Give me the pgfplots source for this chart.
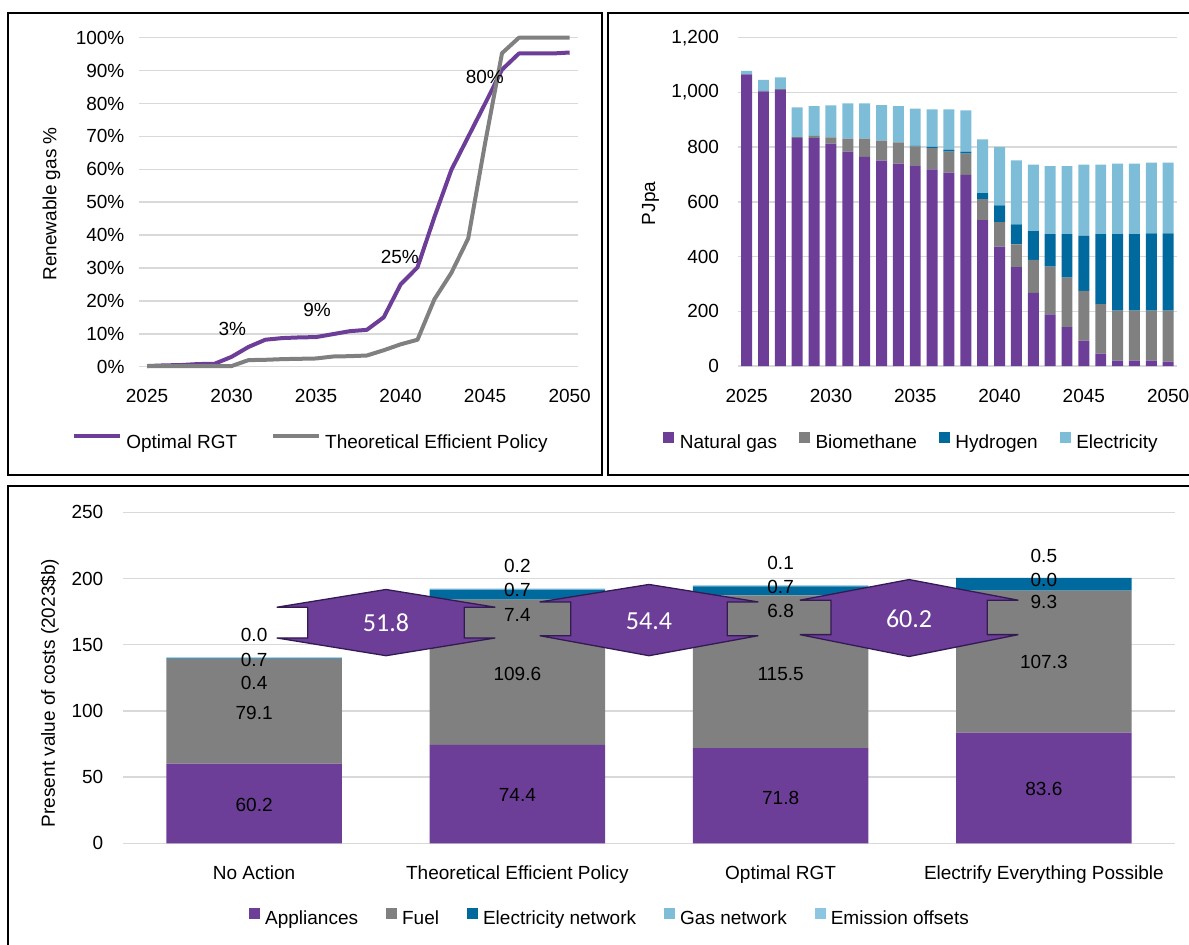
\documentclass[border=0pt]{standalone}
\usepackage{fontspec}
\setmainfont{Liberation Sans}
\newfontfamily\arrowfont{Carlito}
\usepackage{pgfplots}
\usepackage{pgfplotstable}
\pgfplotsset{compat=1.18}

\definecolor{cPurple}{RGB}{109,62,152}
\definecolor{cGray}{RGB}{128,128,128}
\definecolor{cDark}{RGB}{0,106,158}
\definecolor{cLight}{RGB}{126,189,216}
\definecolor{cLightB}{RGB}{140,198,224}
\definecolor{cGrid}{RGB}{217,217,217}
\definecolor{cEdge}{RGB}{52,26,82}

\newcommand\fs{\fontsize{19}{22}\selectfont}

% cost difference arrow: centre, text, top, notch top, notch bottom, bottom, text y
\newcommand\gap[7]{%
  \filldraw[fill=cPurple, draw=cEdge, line width=1.3pt, line join=miter]
    (axis cs:#1-0.415,#4) -- (axis cs:#1,#3) -- (axis cs:#1+0.415,#4)
    -- (axis cs:#1+0.297,#4) -- (axis cs:#1+0.297,#5) -- (axis cs:#1+0.415,#5)
    -- (axis cs:#1,#6) -- (axis cs:#1-0.415,#5) -- (axis cs:#1-0.297,#5)
    -- (axis cs:#1-0.297,#4) -- cycle;
  \node[text=white, font=\arrowfont\fontsize{26}{28}\selectfont] at (axis cs:#1,#7) {#2};}

% Supply mix by fuel, PJ per annum
\pgfplotstableread{
year ng   bio h2  el
2025 1066 0   0   13
2026 1004 2   0   40
2027 1009 3   0   43
2028 834  3   0   108
2029 833  8   0   109
2030 813  23  0   117
2031 784  47  0   129
2032 764  67  0   129
2033 751  73  0   130
2034 740  77  0   133
2035 731  72  2   136
2036 719  77  5   137
2037 707  77  7   147
2038 699  77  8   150
2039 533  77  22  196
2040 436  90  61  214
2041 361  84  73  234
2042 267  121 105 243
2043 189  174 119 249
2044 142  181 159 249
2045 93   182 202 259
2046 45   181 256 254
2047 20   182 280 258
2048 20   182 280 258
2049 20   182 283 258
2050 16   186 283 258
}\supplytable

% Renewable gas share, percent
\pgfplotstableread{
year rgt  tep
2025 0.2  0.2
2026 0.4  0.2
2027 0.5  0.2
2028 0.8  0.2
2029 0.9  0.2
2030 3.0  0.2
2031 6.0  2.0
2032 8.2  2.1
2033 8.7  2.3
2034 8.9  2.4
2035 9.0  2.5
2036 9.9  3.1
2037 10.8 3.2
2038 11.2 3.4
2039 15.0 5.0
2040 25.0 6.8
2041 30.2 8.2
2042 45.5 20.5
2043 59.8 28.5
2044 69.9 39.0
2045 80.0 68.0
2046 90.3 95.3
2047 95.2 100
2048 95.2 100
2049 95.2 100
2050 95.5 100
}\sharetable

% Present value of costs, 2023 $b
\pgfplotstableread{
x app  fuel  elnet gasnet offs
0 60.2 79.1  0.4   0.7    0.0
1 74.4 109.6 7.4   0.7    0.2
2 71.8 115.5 6.8   0.7    0.1
3 83.6 107.3 9.3   0.0    0.5
}\costtable

\pgfplotsset{
  panel/.style={
    scale only axis, clip=false,
    axis line style={draw=none},
    major tick length=0pt,
    ymajorgrids, grid style={cGrid, line width=1.5pt},
    tick label style={font=\fs, inner sep=0pt, text=black},
    /pgf/number format/assume math mode=true,
    xticklabel style={anchor=base, yshift=-36pt},
    legend style={draw=none, fill=none, font=\fs, inner sep=0pt,
      legend columns=-1, nodes={inner sep=0pt},
      /tikz/every odd column/.append style={column sep=5pt},
      /tikz/every even column/.append style={column sep=28pt}},
  },
  costframe/.style={scale only axis, clip=false,
    at={(122.5pt,-512.3pt)}, anchor=north west,
    width=1053pt, height=331pt,
    xmin=-0.5, xmax=3.5, ymin=0, ymax=250},
  sq/.style={legend image code/.code={\fill[##1] (0pt,-1pt) rectangle (11pt,10pt);}},
  ln/.style={legend image code/.code={\draw[##1] (0pt,6.5pt) -- (46pt,6.5pt);}},
}

\begin{document}
\begin{tikzpicture}
\useasboundingbox (0,0) rectangle (1189pt,-945pt);
\draw[line width=2pt] (7.7pt,-12.7pt) rectangle (602pt,-475pt);
\draw[line width=2pt] (607.5pt,-12.7pt) rectangle (1200pt,-475pt);
\draw[line width=2pt] (7.7pt,-486pt) rectangle (1200pt,-960pt);

% ---- Renewable gas share ----
\begin{axis}[panel,
  at={(138.6pt,-37.7pt)}, anchor=north west,
  width=439.5pt, height=329pt,
  xmin=2024.5, xmax=2050.5, ymin=0, ymax=100,
  xtick={2025,2030,2035,2040,2045,2050},
  xticklabels={2025,2030,2035,2040,2045,2050},
  ytick={0,10,...,100},
  yticklabels={0\%,10\%,20\%,30\%,40\%,50\%,60\%,70\%,80\%,90\%,100\%},
  yticklabel style={xshift=-14pt},
  every axis y label/.style={at={(axis description cs:-0.198,0.495)}, rotate=90, anchor=center, font=\fs},
  ylabel={Renewable gas \%},
  legend style={at={(axis description cs:0.390,-0.228)}, anchor=center,
    /tikz/every even column/.append style={column sep=34pt},
    /tikz/every odd column/.append style={column sep=4pt}},
]
\addplot[ln, cPurple, line width=4pt, line join=round] table[x=year,y=rgt]{\sharetable};
\addlegendentry{Optimal RGT}
\addplot[ln, cGray, line width=4pt, line join=round] table[x=year,y=tep]{\sharetable};
\addlegendentry{Theoretical Efficient Policy}
\node[font=\fs] at (axis cs:2030.05,11.5) {3\%};
\node[font=\fs] at (axis cs:2035.06,17.2) {9\%};
\node[font=\fs] at (axis cs:2039.95,33.4) {25\%};
\node[font=\fs] at (axis cs:2044.98,88.1) {80\%};
\end{axis}

% ---- Supply mix ----
\begin{axis}[panel,
  at={(738.2pt,-37.7pt)}, anchor=north west,
  width=438.4pt, height=328.3pt,
  ybar stacked, bar width=0.65,
  xmin=2024.5, xmax=2050.5, ymin=0, ymax=1200,
  xtick={2025,2030,2035,2040,2045,2050},
  xticklabels={2025,2030,2035,2040,2045,2050},
  ytick={0,200,...,1200},
  yticklabels={0,200,400,600,800,{1,000},{1,200}},
  yticklabel style={xshift=-19pt},
  every axis y label/.style={at={(axis description cs:-0.200,0.495)}, rotate=90, anchor=center, font=\fs},
  ylabel={PJpa},
  legend style={at={(axis description cs:0.393,-0.228)}, anchor=center,
    /tikz/every even column/.append style={column sep=22pt},
    /tikz/every odd column/.append style={column sep=5.5pt}},
]
\addplot[sq, fill=cPurple, draw=none] table[x=year,y=ng]{\supplytable};
\addlegendentry{Natural gas}
\addplot[sq, fill=cGray, draw=none] table[x=year,y=bio]{\supplytable};
\addlegendentry{Biomethane}
\addplot[sq, fill=cDark, draw=none] table[x=year,y=h2]{\supplytable};
\addlegendentry{Hydrogen}
\addplot[sq, fill=cLight, draw=none] table[x=year,y=el]{\supplytable};
\addlegendentry{Electricity}
\end{axis}

% ---- Present value of costs ----
\begin{axis}[panel, costframe,
  ybar stacked, bar width=0.666,
  xtick={0,1,2,3},
  xticklabels={No Action,Theoretical Efficient Policy,Optimal RGT,Electrify Everything Possible},
  ytick={0,50,...,250},
  yticklabel style={xshift=-19pt},
  every axis y label/.style={at={(axis description cs:-0.069,0.454)}, rotate=90, anchor=center, font=\fs},
  ylabel={Present value of costs (2023\$b)},
  legend style={at={(axis description cs:0.462,-0.223)}, anchor=center},
]
\addplot[sq, fill=cPurple, draw=none] table[x=x,y=app]{\costtable};
\addlegendentry{Appliances}
\addplot[sq, fill=cGray, draw=none] table[x=x,y=fuel]{\costtable};
\addlegendentry{Fuel}
\addplot[sq, fill=cDark, draw=none] table[x=x,y=elnet]{\costtable};
\addlegendentry{Electricity network}
\addplot[sq, fill=cLight, draw=none] table[x=x,y=gasnet]{\costtable};
\addlegendentry{Gas network}
\addplot[sq, fill=cLightB, draw=none] table[x=x,y=offs]{\costtable};
\addlegendentry{Emission offsets}
\end{axis}

% same frame again, for the value labels and the difference arrows on top of the bars
\begin{axis}[costframe, hide axis]
\node[font=\fs] at (axis cs:0,28.8) {60.2};
\node[font=\fs] at (axis cs:0,98.2) {79.1};
\node[font=\fs] at (axis cs:0,121) {0.4};
\node[font=\fs] at (axis cs:0,138.6) {0.7};
\node[font=\fs] at (axis cs:0,157.6) {0.0};
\node[font=\fs] at (axis cs:1,36.4) {74.4};
\node[font=\fs] at (axis cs:1,128) {109.6};
\node[font=\fs] at (axis cs:1,191.1) {0.7};
\node[font=\fs] at (axis cs:1,209.8) {0.2};
\node[font=\fs] at (axis cs:2,34.6) {71.8};
\node[font=\fs] at (axis cs:2,128) {115.5};
\node[font=\fs] at (axis cs:2,193.7) {0.7};
\node[font=\fs] at (axis cs:2,211.9) {0.1};
\node[font=\fs] at (axis cs:3,41.4) {83.6};
\node[font=\fs] at (axis cs:3,136.6) {107.3};
\node[font=\fs] at (axis cs:3,199.2) {0.0};
\node[font=\fs] at (axis cs:3,216.9) {0.5};
\gap{0.501}{51.8}{191.7}{178.3}{155.1}{141.7}{166.4}
\gap{1.500}{54.4}{195.5}{182.3}{156.8}{141.7}{167.7}
\gap{2.488}{60.2}{199.2}{183.6}{157.6}{141.1}{169.4}
\node[font=\fs] at (axis cs:1,172.7) {7.4};
\node[font=\fs] at (axis cs:2,175.2) {6.8};
\node[font=\fs] at (axis cs:3,182) {9.3};
\end{axis}
\end{tikzpicture}
\end{document}
